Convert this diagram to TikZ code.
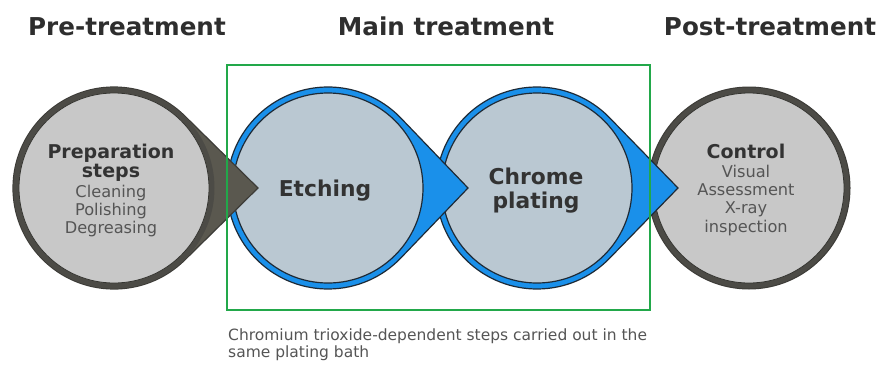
\documentclass[tikz,border=0pt]{standalone}
\usepackage{fontspec}
\setmainfont{DejaVu Sans}
\usetikzlibrary{calc}
\definecolor{titlecol}{HTML}{2E2E2E}
\definecolor{darkring}{HTML}{4C4B46}
\definecolor{darktip}{HTML}{5A584F}
\definecolor{greyin}{HTML}{C8C8C8}
\definecolor{bluering}{HTML}{1A90EA}
\definecolor{bluein}{HTML}{BAC8D2}
\definecolor{navyline}{HTML}{1E2A36}
\definecolor{boxgreen}{HTML}{22A84A}
\definecolor{bodytext}{HTML}{555555}
\definecolor{headtext}{HTML}{333333}
\newcommand\hfnt{\bfseries\fontsize{19}{21}\selectfont\color{headtext}}
\newcommand\bfnt{\mdseries\fontsize{16.2}{18.5}\selectfont\color{bodytext}}
\newcommand\tdrop[6]{%
  \pgfmathsetmacro\tdang{acos(#3/#4)}%
  \filldraw[fill=#5,draw=#6,line width=1.2pt,line join=miter]
    (#1+#4,#2) -- ($(#1,#2)+(\tdang:#3)$)
    arc[start angle=\tdang,end angle=360-\tdang,radius=#3] -- cycle;}
\begin{document}
\begin{tikzpicture}[x=1pt,y=-1pt,
  title/.style={font=\bfseries\fontsize{24.6}{28}\selectfont,text=titlecol,anchor=base},
  inner/.style={circle,minimum size=190pt,inner sep=0pt},
  head/.style={font=\bfseries\fontsize{21.8}{24}\selectfont,text=headtext},
  txt/.style={inner sep=0pt,anchor=base},
  caption/.style={font=\fontsize{15.5}{16.5}\selectfont,text=bodytext,align=left,anchor=north west,inner sep=0pt}]
\useasboundingbox (0,0) rectangle (877,364);
\fill[white] (0,0) rectangle (877,364);
% titles
\node[title] (t1) at (127,35) {Pre-treatment};
\node[title] (t2) at (446,35) {Main treatment};
\node[title] (t3) at (770,35) {Post-treatment};
% control circle
\filldraw[fill=darkring,draw=darkring!80!black,line width=1pt] (749,188) circle[radius=101];
\node[inner,fill=greyin,draw=darkring!70!black,line width=0.8pt] (c4) at (749,188) {};
% chrome plating
\tdrop{537}{188}{101}{141}{bluering}{navyline}
\node[inner,fill=bluein,draw=navyline,line width=1.2pt] (c3) at (537,188) {};
% etching
\tdrop{328}{188}{101}{140}{bluering}{navyline}
\node[inner,fill=bluein,draw=navyline,line width=1.2pt] (c2) at (328,188) {};
% preparation
\tdrop{114}{188}{101}{144}{darktip}{darkring!80!black}
\draw[darkring,line width=5pt] (114,188) circle[radius=98];
\node[inner,fill=greyin,draw=darkring!70!black,line width=0.8pt] (c1) at (114,188) {};
% texts: preparation
\node[txt,font=\hfnt] (p1) at (111,158) {Preparation};
\node[txt,font=\hfnt] (p2) at (111,177) {steps};
\node[txt,font=\bfnt] (p3) at (111,197) {Cleaning};
\node[txt,font=\bfnt] (p4) at (111,215) {Polishing};
\node[txt,font=\bfnt] (p5) at (111,233) {Degreasing};
\node[txt,font=\bfseries\fontsize{21.8}{24}\selectfont\color{headtext}] (etch) at (325,196) {Etching};
\node[txt,font=\bfseries\fontsize{21.8}{24}\selectfont\color{headtext}] (ch1) at (536,184) {Chrome};
\node[txt,font=\bfseries\fontsize{21.8}{24}\selectfont\color{headtext}] (ch2) at (536,208) {plating};
% control texts
\node[txt,font=\bfseries\fontsize{19}{21}\selectfont\color{headtext}] (k1) at (746,158) {Control};
\node[txt,font=\bfnt] (k2) at (746,177) {Visual};
\node[txt,font=\bfnt] (k3) at (746,195) {Assessment};
\node[txt,font=\bfnt] (k4) at (746,213) {X-ray};
\node[txt,font=\bfnt] (k5) at (746,232) {inspection};
% green box
\draw[boxgreen,line width=2pt] (227,65) rectangle (650,310);
\node[caption] (cap) at (228,329) {Chromium trioxide-dependent steps carried out in the\\same plating bath};
\end{tikzpicture}
\end{document}
